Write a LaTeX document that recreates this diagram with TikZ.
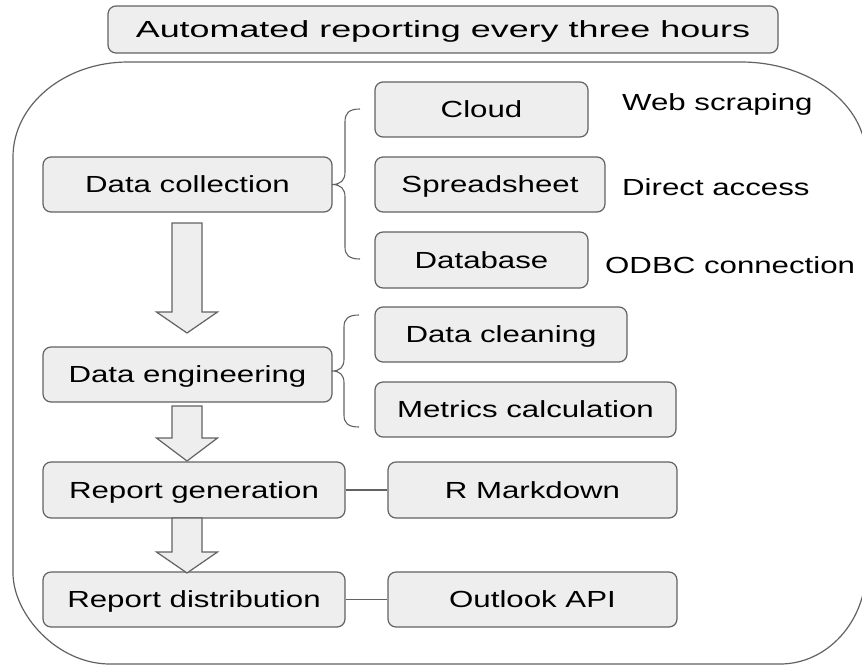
\documentclass[tikz,border=0pt]{standalone}
\usepackage{fontspec}
\setmainfont{Liberation Sans}
\newfontfamily\bodyfont[FakeStretch=1.34]{Liberation Sans}
\newfontfamily\titlefont[FakeStretch=1.54]{Liberation Sans}
\definecolor{boxgray}{HTML}{EEEEEE}
\definecolor{edgegray}{HTML}{626262}
\tikzset{
  box/.style={draw=edgegray, fill=boxgray, rounded corners=8pt, line width=1.2pt,
    inner sep=0pt, text height=16.7pt, text depth=0pt,
    font=\bodyfont\fontsize{23.3}{28}\selectfont},
  label/.style={inner sep=0pt, anchor=base west, font=\bodyfont\fontsize{23.3}{28}\selectfont},
  conn/.style={draw=edgegray, line width=1.1pt},
  bracestyle/.style={draw=edgegray, line width=1.1pt},
  blockarr/.style={draw=edgegray, fill=boxgray, line width=1.2pt, line join=miter},
  outerbox/.style={draw=edgegray, line width=1.2pt}
}
\newcommand{\myblockarrow}[4]{% x, ytop, ytip, head height
  \draw[blockarr] (#1-15,#2) -- (#1+15,#2) -- (#1+15,#3-#4) -- (#1+30.5,#3-#4) -- (#1,#3)
    -- (#1-30.5,#3-#4) -- (#1-15,#3-#4) -- cycle;}
\begin{document}
\begin{tikzpicture}[x=1pt,y=-1pt]
\useasboundingbox (0,0) rectangle (862,665);
\begin{scope}
\clip (0,0) rectangle (862,665);
% outer rounded frame
\draw[outerbox] (13,157) .. controls (13,104.6) and (64.5,62) .. (128,62)
  -- (741,62) .. controls (810,62) and (866,104.6) .. (866,157)
  -- (866,569) .. controls (866,621.4) and (827.5,664) .. (780,664)
  -- (110,664) .. controls (56.5,664) and (13,613.8) .. (13,573) -- cycle;
\end{scope}

% title
\node[box, minimum width=670pt, minimum height=47pt,
  font=\titlefont\fontsize{23.3}{28}\selectfont] (title) at (443,29.5) {Automated reporting every three hours};

% left column
\node[box, minimum width=289pt, minimum height=55pt] (dc) at (187.5,184.5) {Data collection};
\node[box, minimum width=289pt, minimum height=55pt] (de) at (187.5,374.5) {Data engineering};
\node[box, minimum width=302pt, minimum height=56pt] (rg) at (194,490) {Report generation};
\node[box, minimum width=302pt, minimum height=55pt] (rd) at (194,599.5) {Report distribution};

% right column
\node[box, minimum width=213pt, minimum height=55pt] (cloud) at (481.5,109.5) {Cloud};
\node[box, minimum width=230pt, minimum height=55pt] (sheet) at (490,184.5) {Spreadsheet};
\node[box, minimum width=213pt, minimum height=56pt] (db) at (481.5,260) {Database};
\node[box, minimum width=252pt, minimum height=55pt] (clean) at (501,334.5) {Data cleaning};
\node[box, minimum width=301pt, minimum height=55pt] (metrics) at (525.5,409.5) {Metrics calculation};
\node[box, minimum width=289pt, minimum height=56pt] (rmd) at (532.5,490) {R Markdown};
\node[box, minimum width=289pt, minimum height=55pt] (outlook) at (532.5,599.5) {Outlook API};

% free labels
\node[label] (web) at (622,110) {Web scraping};
\node[label] (direct) at (622,195) {Direct access};
\node[label] (odbc) at (605,273) {ODBC connection};

% block arrows
\myblockarrow{187}{223}{333}{21}
\myblockarrow{187}{406}{461}{23}
\myblockarrow{187}{518}{573}{21}

% connectors
\draw[conn] (rg.east) -- (rmd.west);
\draw[conn] (rd.east) -- (outlook.west);

% braces
\coordinate (b1top) at (360,109);
\coordinate (b1tip) at (332,184.5);
\coordinate (b1bot) at (360,259);
\draw[bracestyle] (b1top) .. controls (349,109) and (345,113) .. (345,122)
  -- (345,172) .. controls (345,180) and (341,184.5) .. (b1tip)
  .. controls (341,184.5) and (345,189) .. (345,197)
  -- (345,247) .. controls (345,255) and (349,259) .. (b1bot);
\coordinate (b2top) at (359,315);
\coordinate (b2tip) at (332,371);
\coordinate (b2bot) at (359,427);
\draw[bracestyle] (b2top) .. controls (348,315) and (344,319) .. (344,327)
  -- (344,359) .. controls (344,367) and (340,371) .. (b2tip)
  .. controls (340,371) and (344,375) .. (344,383)
  -- (344,415) .. controls (344,423) and (348,427) .. (b2bot);
\end{tikzpicture}
\end{document}
